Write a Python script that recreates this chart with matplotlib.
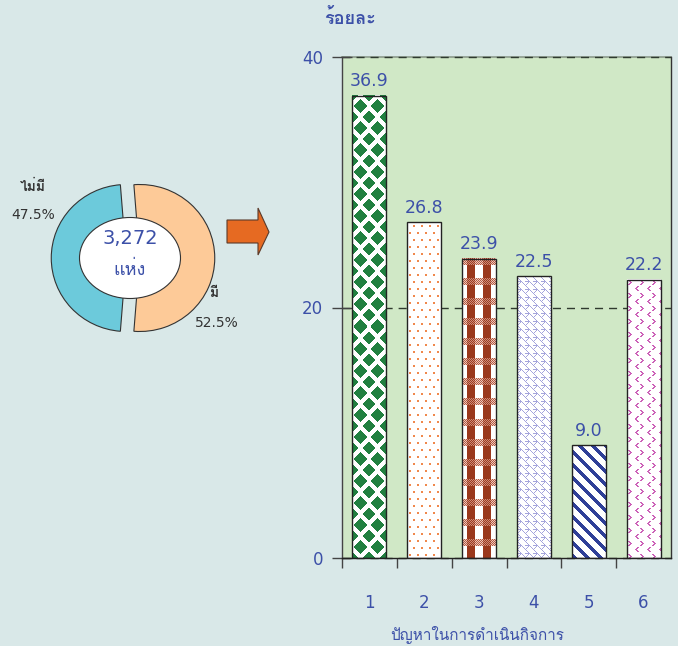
import numpy as np
import matplotlib
matplotlib.use('Agg')
import matplotlib.pyplot as plt
from matplotlib import font_manager
from matplotlib.patches import Ellipse, Polygon
from matplotlib.ft2font import FT2Font
from matplotlib.colors import to_rgb

# ---------------- data ----------------
categories = ['1', '2', '3', '4', '5', '6']
values = [36.9, 26.8, 23.9, 22.5, 9.0, 22.2]
y_ticks = [0, 20, 40]
pie_labels = ['มี', 'ไม่มี']
pie_values = [52.5, 47.5]
total_text = '3,272'
unit_text = 'แห่ง'
y_title = 'ร้อยละ'
x_title = 'ปัญหาในการดำเนินกิจการ'

# ---------------- fonts ----------------
def find_thai():
    prefs = ['Tahoma', 'Loma', 'Noto Sans Thai', 'Noto Sans Thai UI', 'Sarabun',
             'Garuda', 'Waree', 'Norasi', 'Kinnari', 'Umpush', 'Laksaman', 'Tlwg Typo']
    found = {}
    for fe in font_manager.fontManager.ttflist:
        try:
            cm = FT2Font(fe.fname).get_charmap()
        except Exception:
            continue
        if 0x0E23 in cm and 0x0E49 in cm:
            found.setdefault(fe.name, fe)
    for p in prefs:
        if p in found:
            return p
    return next(iter(found), None)

thai = find_thai()
plt.rcParams['font.family'] = ['DejaVu Sans'] + ([thai] if thai else [])

BG = '#d9e8e8'
GREEN = '#d0e8c6'
BLUE = '#3c50a8'
DARK = '#333333'

W_PX, H_PX = 678, 646
fig = plt.figure(figsize=(W_PX / 100, H_PX / 100), dpi=100, facecolor=BG)

def fx(x):
    return x / W_PX

def fy(y):
    return 1 - y / H_PX

# ---------------- bar chart ----------------
L, R, T, B = 342, 671, 57, 558
ax = fig.add_axes([fx(L), fy(B), (R - L) / W_PX, (B - T) / H_PX])
ax.set_facecolor(GREEN)
xpos = np.arange(len(categories))
bw = 0.62
bars = ax.bar(xpos, values, width=bw, facecolor='none', edgecolor='#222222',
              linewidth=1.0, zorder=3)
ax.set_xlim(-0.5, len(categories) - 0.5)
ax.set_ylim(0, 40)


def texture(kind, W, H):
    rows, xx = np.mgrid[0:H, 0:W]
    yy = H - 1 - rows
    img = np.ones((H, W, 3))

    def paint(mask, color):
        img[mask] = to_rgb(color)

    if kind == 0:  # green diamonds
        px_, py_ = 17.0, 22.0
        u = np.mod(xx - W / 2.0 + 0.5, px_)
        v = np.mod(rows + 0.5, py_)
        d1 = np.abs(u - px_ / 2) + np.abs(v - py_ / 2)
        d2 = np.minimum(u, px_ - u) + np.minimum(v, py_ - v)
        paint(np.minimum(d1, d2) < 6.6, '#218040')
    elif kind == 1:  # orange dots
        u = xx % 8
        v = yy % 14
        m = ((u >= 2) & (u <= 3) & (v >= 2) & (v <= 3)) | \
            ((u >= 6) & (u <= 7) & (v >= 9) & (v <= 10))
        paint(m, '#f0884c')
    elif kind == 2:  # brown plaid
        col = np.mod(xx - W / 2.0 + 8 + 4, 16) < 8
        band = (rows % 20) < 7
        chk = ((xx + rows) % 2) == 0
        paint(col & ~band, '#9a381c')
        paint(band & ~col & chk, '#b65a44')
        paint(band & ~col & ~chk, '#ecc8ba')
        paint(band & col & chk, '#9a3c22')
        paint(band & col & ~chk, '#d08a76')
    elif kind == 3:  # lavender fret
        m = ((xx + yy) % 8 == 0) | \
            (((xx - yy) % 8 == 0) & ((xx // 4) % 2 == 0)) | \
            ((yy % 8 == 4) & ((xx % 8) < 4))
        paint(m, '#a4a4dc')
    elif kind == 4:  # navy diagonal stripes
        paint(((xx + yy) % 13) < 5, '#2f3f98')
    elif kind == 5:  # pink chevrons
        r = rows % 13
        c = xx % 12
        m = np.zeros_like(r, dtype=bool)
        pts = [(1, 1), (2, 2), (3, 3), (4, 2), (5, 1),
               (7, 10), (8, 9), (9, 8), (10, 9), (11, 10)]
        for (rr, cc) in pts:
            m |= (r == rr) & ((c == cc) | (c == cc + 1))
        paint(m, '#cc62b8')
    return img


for i, bar in enumerate(bars):
    x0 = bar.get_x()
    x1 = x0 + bar.get_width()
    h = bar.get_height()
    p0 = ax.transData.transform((x0, 0))
    p1 = ax.transData.transform((x1, h))
    Wp = max(1, int(round(p1[0] - p0[0])))
    Hp = max(1, int(round(p1[1] - p0[1])))
    ax.imshow(texture(i, Wp, Hp), extent=(x0, x1, 0, h), origin='upper',
              interpolation='nearest', aspect='auto', zorder=2)
    ax.annotate(f'{values[i]:.1f}', (xpos[i], h), xytext=(0, 4),
                textcoords='offset points', ha='center', va='bottom',
                color=BLUE, fontsize=12.5, zorder=4)

ax.set_xlim(-0.5, len(categories) - 0.5)
ax.set_ylim(0, 40)
ax.set_aspect('auto')

ax.spines['top'].set_visible(False)
ax.spines['right'].set_color('#333333')
ax.spines['right'].set_linewidth(1.0)
ax.spines['left'].set_color('#444444')
ax.spines['bottom'].set_color('#222222')
ax.spines['left'].set_linewidth(1.0)
ax.spines['bottom'].set_linewidth(1.0)

ax.set_yticks(y_ticks)
ax.set_yticklabels([str(t) for t in y_ticks])
ax.tick_params(axis='y', direction='inout', length=15, width=1, color='#444444',
               labelcolor=BLUE, labelsize=12, pad=6)
ax.set_xticks(xpos)
ax.set_xticklabels(categories)
ax.tick_params(axis='x', which='major', length=0, labelcolor=BLUE,
               labelsize=12, pad=26)
ax.set_xticks(np.arange(-0.5, len(categories) - 1, 1.0), minor=True)
ax.tick_params(axis='x', which='minor', direction='out', length=7, width=1,
               color='#444444')
ax.set_axisbelow(True)
ax.axhline(40, color='#8c9a8c', linewidth=1.2, zorder=0.4, clip_on=False)
ax.yaxis.grid(True, linestyle=(0, (5.8, 4.3)), color='#2f3a2f', linewidth=1.0)
for gl in ax.get_ygridlines():
    gl.set_clip_on(False)
ax.xaxis.grid(False)

fig.text(fx(477), fy(635), x_title, ha='center', va='center', color=BLUE,
         fontsize=11)
fig.text(fx(350), fy(18), y_title, ha='center', va='center', color=BLUE,
         fontsize=13, fontweight='bold')

# ---------------- donut ----------------
cx, cy = 133, 258
rx, ry = 75, 73.5
lim = 1.2
pax = fig.add_axes([fx(cx - rx * lim), fy(cy + ry * lim),
                    2 * rx * lim / W_PX, 2 * ry * lim / H_PX])
pax.pie(pie_values, colors=['#fdca98', '#6ccadb'],
        startangle=90 + (pie_values[0] - 50) * 1.8,
        counterclock=False, explode=[0.09, 0.09],
        wedgeprops=dict(edgecolor=DARK, linewidth=0.8))
pax.set_xlim(-lim, lim)
pax.set_ylim(-lim, lim)
pax.set_aspect('auto')
pax.axis('off')
pax.add_patch(Ellipse(((130 - cx) / rx, 0), 101 / rx, 81 / ry,
                      facecolor='white', edgecolor=DARK, linewidth=0.8, zorder=5))

fig.text(fx(130), fy(238), total_text, ha='center', va='center', color=BLUE,
         fontsize=14)
fig.text(fx(130), fy(270), unit_text, ha='center', va='center', color=BLUE,
         fontsize=13)

fig.text(fx(33), fy(187), pie_labels[1], ha='center', va='center', color=DARK,
         fontsize=10, fontweight='bold')
fig.text(fx(33), fy(215), f'{pie_values[1]:.1f}%', ha='center', va='center',
         color=DARK, fontsize=10)
fig.text(fx(214), fy(293), pie_labels[0], ha='center', va='center', color=DARK,
         fontsize=10, fontweight='bold')
fig.text(fx(217), fy(323), f'{pie_values[0]:.1f}%', ha='center', va='center',
         color=DARK, fontsize=10)

# ---------------- arrow ----------------
arrow_px = [(227, 220), (258, 220), (258, 208), (269, 232), (258, 255),
            (258, 243), (227, 243)]
arrow = Polygon([(x / 100, (H_PX - y) / 100) for x, y in arrow_px],
                closed=True, facecolor='#e66a22', edgecolor='#5a3a2a',
                linewidth=0.8, transform=fig.dpi_scale_trans)
fig.add_artist(arrow)

fig.savefig('out.png', dpi=100, facecolor=BG)
